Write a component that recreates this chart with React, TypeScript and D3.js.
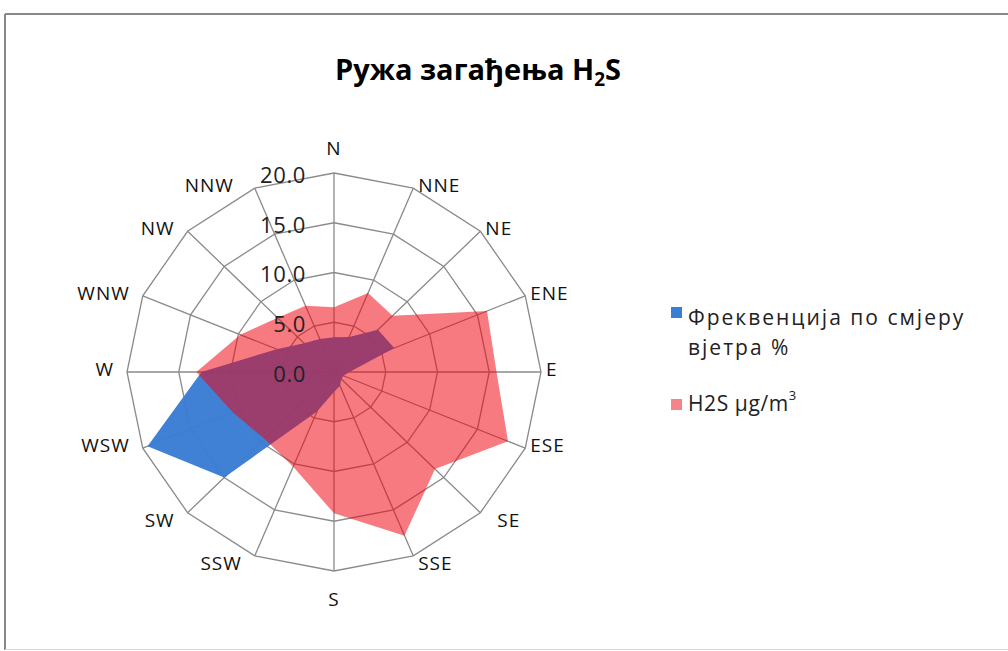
import React from "react";
import * as d3 from "d3";

const directions = ["N","NNE","NE","ENE","E","ESE","SE","SSE","S","SSW","SW","WSW","W","WNW","NW","NNW"];
const frequency = [3.5, 3.8, 6.0, 6.3, 1.5, 1.0, 1.0, 1.5, 2.0, 4.3, 15.0, 19.5, 12.8, 6.0, 4.1, 3.6];
const h2s = [6.5, 8.6, 8.0, 16.0, 15.7, 18.2, 13.8, 17.8, 14.2, 10.3, 9.5, 10.6, 13.3, 9.8, 7.7, 7.2];
const ticks = [0, 5, 10, 15, 20];
const tickLabels = ["0.0", "5.0", "10.0", "15.0", "20.0"];
const seriesNames = ["Фреквенција по смјеру", "вјетра %"];
const series2Name = "H2S µg/m";

const W = 1008, H = 651;
const cx = 334, cy = 372;
const FONT = "'Open Sans', 'Noto Sans', sans-serif";

export default function App() {
  const rx = d3.scaleLinear().domain([0, 20]).range([0, 207]);
  const ry = d3.scaleLinear().domain([0, 20]).range([0, 199]);
  const ang = d3.scaleLinear().domain([0, directions.length]).range([0, 2 * Math.PI]);
  const pt = (i: number, v: number): [number, number] => [
    cx + rx(v) * Math.sin(ang(i)),
    cy - ry(v) * Math.cos(ang(i)),
  ];
  const poly = d3.line<[number, number]>().curve(d3.curveLinearClosed);
  const ring = (v: number) => poly(directions.map((_, i) => pt(i, v)));
  const area = (vals: number[]) => poly(vals.map((v, i) => pt(i, v)));
  const grid = "#8a8a8a";

  return (
    <svg width={W} height={H} style={{ position: "absolute", left: 0, top: 0, background: "#fff" }} fontFamily={FONT}>
      <rect x={0} y={0} width={W} height={H} fill="#fff" />
      <line x1={5} y1={14} x2={W} y2={14} stroke="#888" strokeWidth={2} />
      <line x1={5} y1={14} x2={5} y2={650} stroke="#888" strokeWidth={2} />
      <line x1={5} y1={649.5} x2={W} y2={649.5} stroke="#d8d8d8" strokeWidth={1} />

      <text x={478} y={80} textAnchor="middle" fontSize={29} fontWeight="bold" fill="#000">
        Ружа загађења H<tspan fontSize={19} dy={6}>2</tspan><tspan dy={-6}>S</tspan>
      </text>

      {ticks.filter(t => t > 0).map(t => (
        <path key={t} d={ring(t) || ""} fill="none" stroke={grid} strokeWidth={1.3} />
      ))}
      {directions.map((d, i) => {
        const [x, y] = pt(i, 20);
        return <line key={d} x1={cx} y1={cy} x2={x} y2={y} stroke={grid} strokeWidth={1.3} />;
      })}

      <path d={area(frequency) || ""} fill="#3a7dd4" fillOpacity={0.97} />
      <path d={area(h2s) || ""} fill="#f0000e" fillOpacity={0.52} />

      {ticks.map((t, k) => (
        <text key={t} x={cx - 28} y={cy - ry(t) + 4} textAnchor="end" dominantBaseline="middle" fontSize={22} fill="#222" letterSpacing={0.6}>
          {tickLabels[k]}
        </text>
      ))}

      {directions.map((d, i) => {
        const [x, y] = pt(i, 20);
        const s = Math.sin(ang(i)), c = Math.cos(ang(i));
        let anchor = "middle", lx = x, ly = y;
        if (s > 0.1) { anchor = "start"; lx = x + 5 + (c < -0.5 && c > -0.8 ? 12 : 0); }
        else if (s < -0.1) { anchor = "end"; lx = x - 13 + (c > 0.8 ? -8 : 0); }
        if (Math.abs(s) < 0.1) ly = c > 0 ? y - 23 : y + 30;
        else if (c < -0.5) ly = y + 9;
        else ly = y - 1;
        return (
          <text key={d} x={lx} y={ly} textAnchor={anchor} dominantBaseline="middle" fontSize={19} fill="#111" letterSpacing={1}>
            {d}
          </text>
        );
      })}

      <rect x={671} y={307} width={11} height={11} fill="#3a7dd4" />
      <text x={688} y={319} fontSize={21} fill="#222" letterSpacing={2} dominantBaseline="middle">{seriesNames[0]}</text>
      <text x={688} y={349} fontSize={21} fill="#222" letterSpacing={2} dominantBaseline="middle">{seriesNames[1]}</text>
      <rect x={671} y={399} width={11} height={11} fill="#f4838a" />
      <text x={688} y={405} fontSize={21} fill="#222" letterSpacing={0.6} dominantBaseline="middle">
        {series2Name}<tspan fontSize={13} dy={-8}>3</tspan>
      </text>
    </svg>
  );
}
